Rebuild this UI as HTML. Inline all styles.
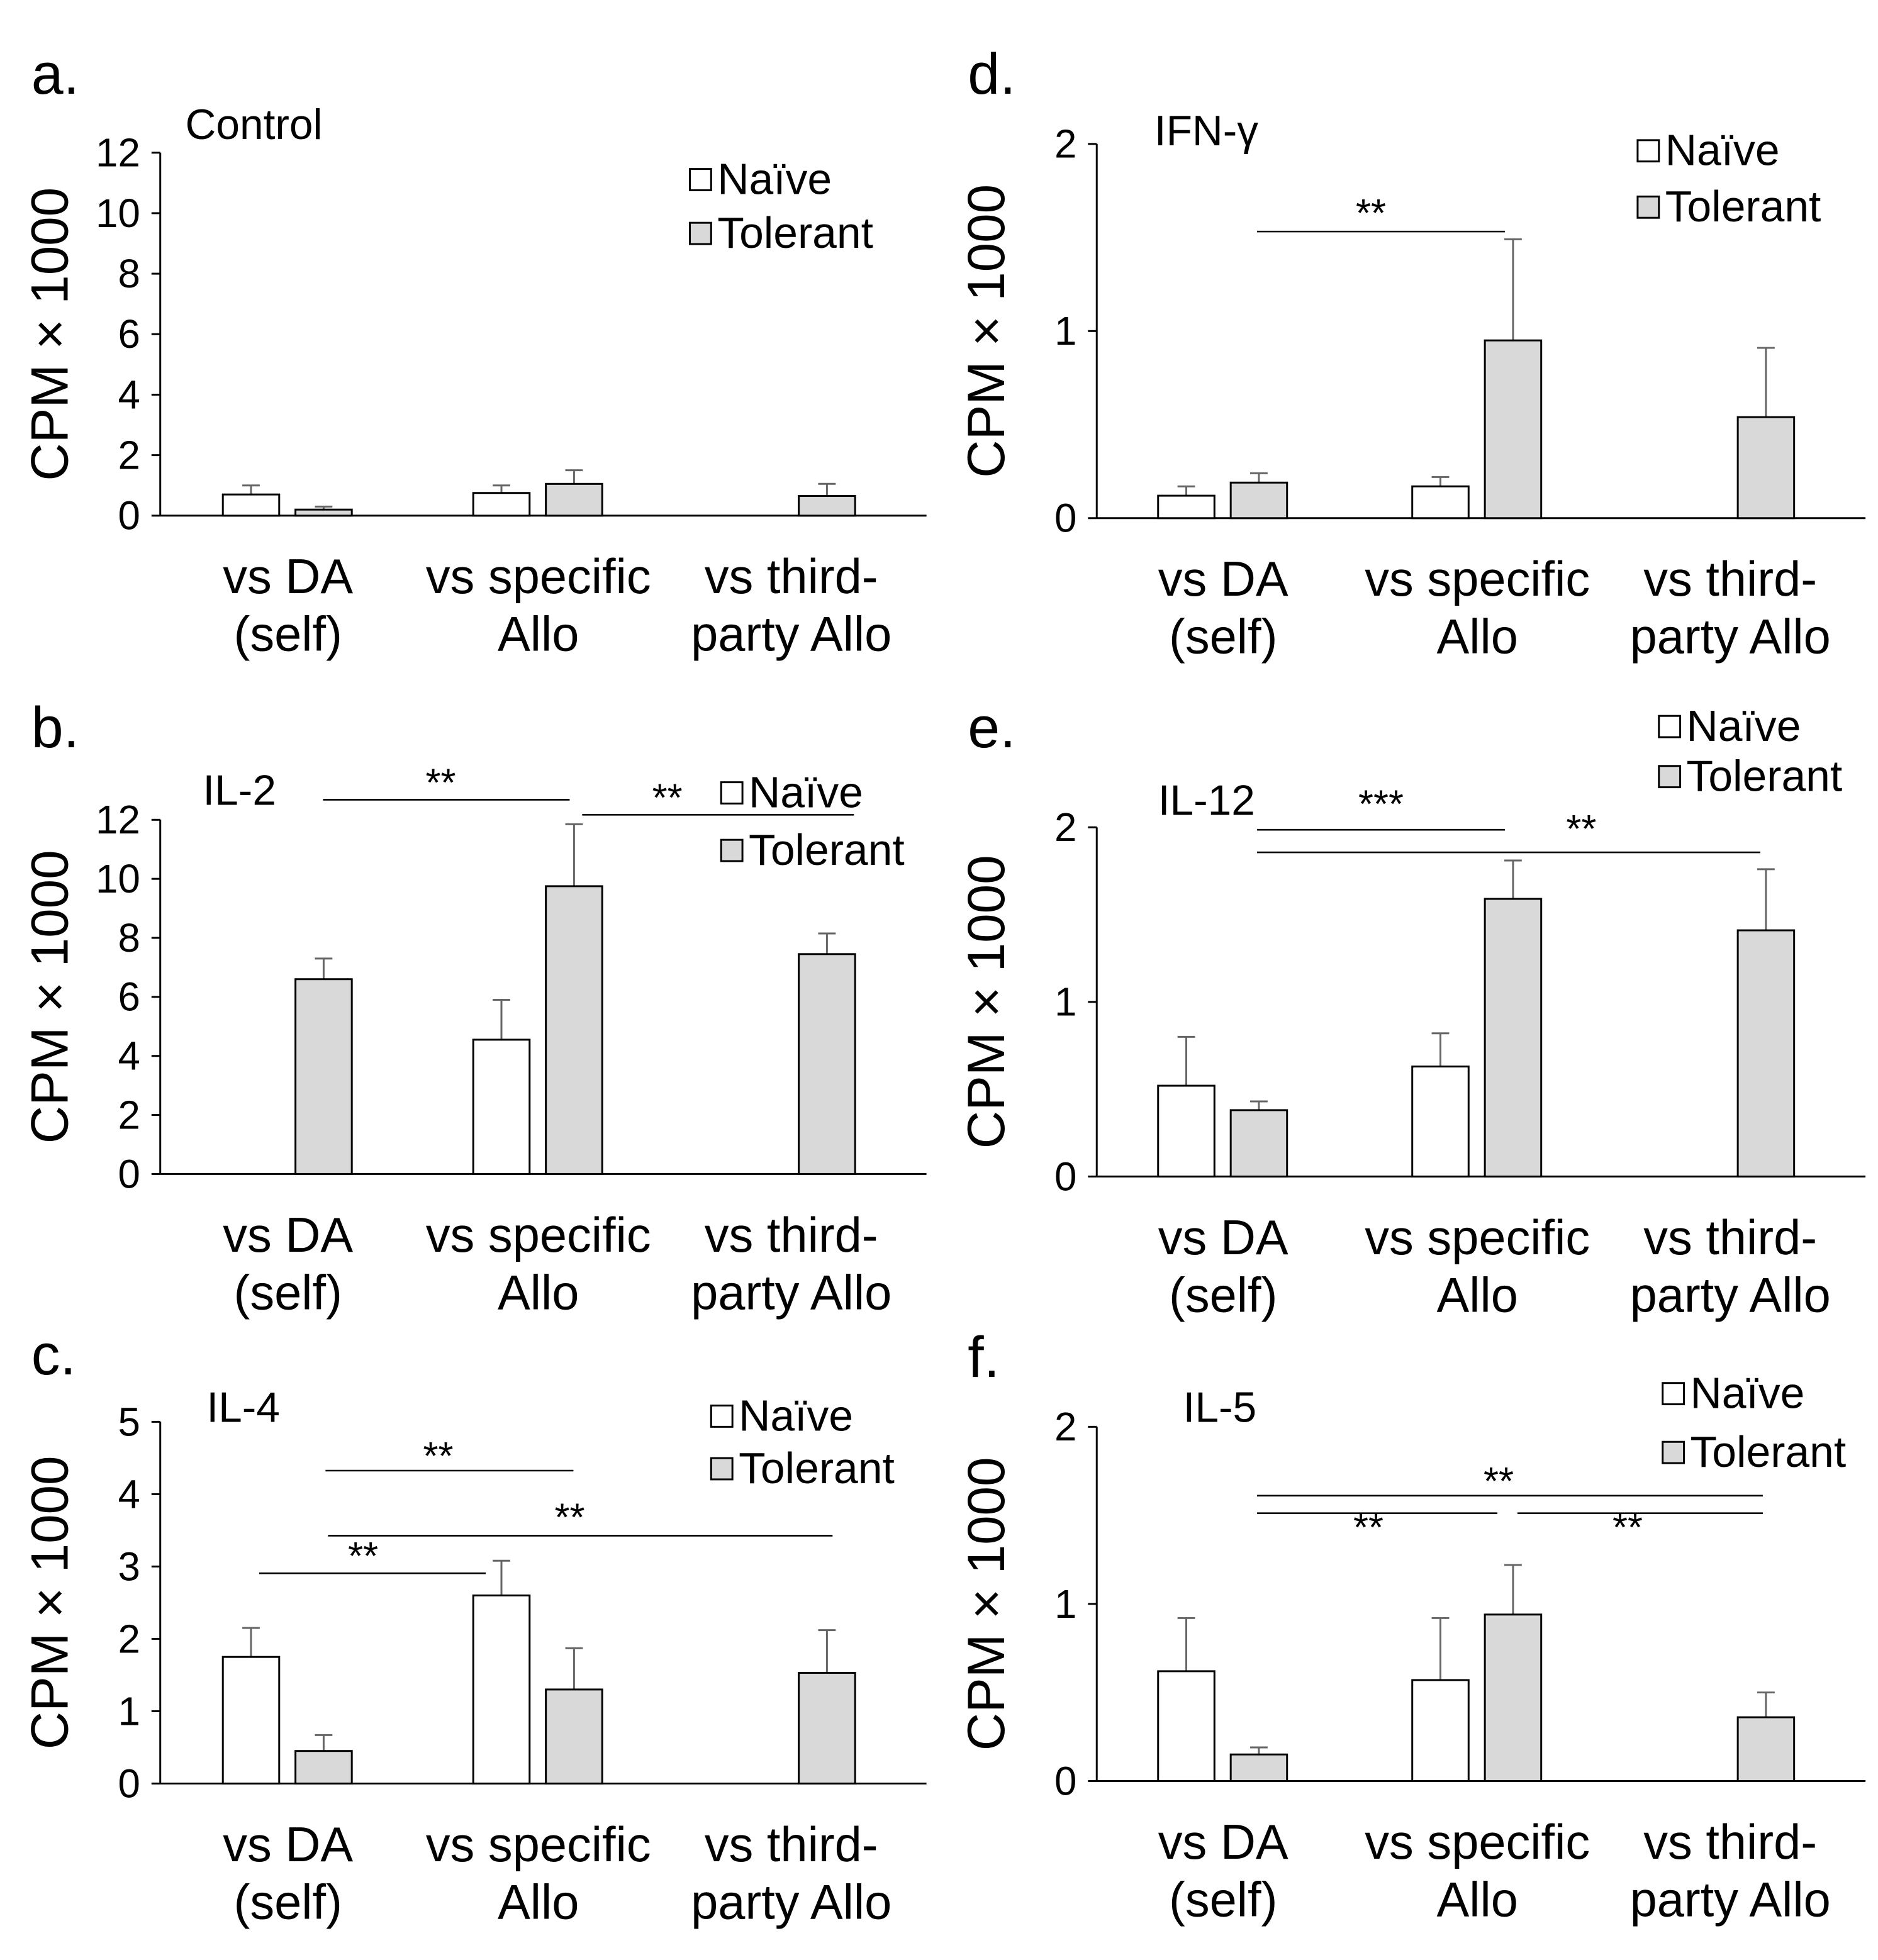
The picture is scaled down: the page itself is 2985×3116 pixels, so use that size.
<!DOCTYPE html>
<html><head><meta charset="utf-8"><style>body{margin:0;background:#fff}svg{display:block}text{font-family:"Liberation Sans",sans-serif;fill:#000}</style></head>
<body>
<svg id="fig" width="2985" height="3116" viewBox="0 0 1500 1566" preserveAspectRatio="none" xmlns="http://www.w3.org/2000/svg"></svg>
<script>
const categories = [["vs DA","(self)"],["vs specific","Allo"],["vs third-","party Allo"]];
const naiveA=[0.7,0.75,null], naiveErrA=[1.0,1.0,null], tolA=[0.2,1.05,0.65], tolErrA=[0.3,1.5,1.05];
const naiveB=[null,4.55,null], naiveErrB=[null,5.9,null], tolB=[6.6,9.75,7.45], tolErrB=[7.3,11.85,8.15];
const naiveC=[1.75,2.6,null], naiveErrC=[2.15,3.08,null], tolC=[0.45,1.3,1.53], tolErrC=[0.67,1.87,2.12];
const naiveD=[0.12,0.17,null], naiveErrD=[0.17,0.22,null], tolD=[0.19,0.95,0.54], tolErrD=[0.24,1.49,0.91];
const naiveE=[0.52,0.63,null], naiveErrE=[0.8,0.82,null], tolE=[0.38,1.59,1.41], tolErrE=[0.43,1.81,1.76];
const naiveF=[0.62,0.57,null], naiveErrF=[0.92,0.92,null], tolF=[0.15,0.94,0.36], tolErrF=[0.19,1.22,0.5];
const ticksAB=[0,2,4,6,8,10,12], ticksC=[0,1,2,3,4,5], ticksDEF=[0,1,2];

const svg=document.getElementById('fig');
const NS='http://www.w3.org/2000/svg';
function el(tag,attrs,parent){const e=document.createElementNS(NS,tag);for(const k in attrs)e.setAttribute(k,attrs[k]);(parent||svg).appendChild(e);return e;}
function txt(x,y,s,size,anchor,parent){const t=el('text',{x:x,y:y,'font-size':size,'text-anchor':anchor||'start'},parent);t.textContent=s;return t;}

function panel(p){
  const g=el('g',{});
  
  
  const yScale=v=>p.y0-(v/p.max)*(p.y0-p.yTop);
  const t0=txt(p.ax-103,p.letterY,p.id+'.',46,'start',g);
  
  const tt=txt(p.titleX,p.titleY,p.title,34,'start',g);
  
  el('line',{x1:p.ax,y1:p.yTop,x2:p.ax,y2:p.y0,stroke:'#000','stroke-width':1.5},g);
  el('line',{x1:p.ax,y1:p.y0,x2:p.xEnd,y2:p.y0,stroke:'#000','stroke-width':1.5},g);
  p.ticks.forEach(v=>{const y=yScale(v);
    el('line',{x1:p.ax-7,y1:y,x2:p.ax,y2:y,stroke:'#000','stroke-width':1.5},g);
    const t=txt(p.ax-16,y+11,String(v),32,'end',g);
    });
  const yl=txt(0,0,'CPM × 1000',42,'middle',g);
  yl.setAttribute('transform','translate('+(p.ax-74)+','+((p.yTop+p.y0)/2)+') rotate(-90)');
  
  categories.forEach((c,i)=>{const cx=p.cx[i];
    const l1=txt(cx,p.labY,c[0],39,'middle',g);
    
    const l2=txt(cx,p.labY+46,c[1],39,'middle',g);
    
    [[p.naive,p.naiveErr,-52,'#fff','bar-naive'],[p.tol,p.tolErr,6,'#d9d9d9','bar-tolerant']].forEach(s=>{
      const v=s[0][i]; if(v==null)return;
      const x=cx+s[2], w=45, y=yScale(v), ye=yScale(s[1][i]);
      el('line',{x1:x+w/2,y1:ye,x2:x+w/2,y2:y,stroke:'#666','stroke-width':1.5},g);
      el('line',{x1:x+w/2-7,y1:ye,x2:x+w/2+7,y2:ye,stroke:'#666','stroke-width':1.5},g);
      const r=el('rect',{x:x,y:y,width:w,height:p.y0-y,fill:s[3],stroke:'#000','stroke-width':1.5},g);
      
    });
  });
  p.sig.forEach(s=>{
    el('line',{x1:s[0],y1:s[2],x2:s[1],y2:s[2],stroke:'#000','stroke-width':1.3},g);
    const t=txt(s[3],s[4],s[5],31,'middle',g);
    
  });
  [['Naïve','#fff',p.legY[0]],['Tolerant','#d9d9d9',p.legY[1]]].forEach(L=>{
    const lg=el('g',{},g);
    
    el('rect',{x:p.legX,y:L[2]-20,width:17,height:17,fill:L[1],stroke:'#000','stroke-width':1.5},lg);
    txt(p.legX+22,L[2],L[0],35,'start',lg);
  });
}
const cxL=[230,430,632], cxR=[977,1180,1382];
panel({id:'a',title:'Control',titleX:148,titleY:111,letterY:75,ax:128,yTop:122,y0:412,max:12,ticks:ticksAB,xEnd:740,cx:cxL,labY:474,naive:naiveA,naiveErr:naiveErrA,tol:tolA,tolErr:tolErrA,sig:[],legX:551,legY:[155,198]});
panel({id:'b',title:'IL-2',titleX:162,titleY:643,letterY:597,ax:128,yTop:655,y0:938,max:12,ticks:ticksAB,xEnd:740,cx:cxL,labY:1000,naive:naiveB,naiveErr:naiveErrB,tol:tolB,tolErr:tolErrB,sig:[[258,455,639,352,636,'**'],[465,682,651,533,648,'**']],legX:576,legY:[645,691]});
panel({id:'c',title:'IL-4',titleX:165,titleY:1136,letterY:1098,ax:128,yTop:1136,y0:1425,max:5,ticks:ticksC,xEnd:740,cx:cxL,labY:1487,naive:naiveC,naiveErr:naiveErrC,tol:tolC,tolErr:tolErrC,sig:[[260,458,1175,350,1174,'**'],[262,665,1227,455,1223,'**'],[207,388,1257,290,1254,'**']],legX:568,legY:[1143,1185]});
panel({id:'d',title:'IFN-γ',titleX:922,titleY:116,letterY:75,ax:876,yTop:115,y0:414,max:2,ticks:ticksDEF,xEnd:1490,cx:cxR,labY:476,naive:naiveD,naiveErr:naiveErrD,tol:tolD,tolErr:tolErrD,sig:[[1004,1202,185,1095,181,'**']],legX:1308,legY:[132,177]});
panel({id:'e',title:'IL-12',titleX:925,titleY:651,letterY:597,ax:876,yTop:661,y0:940,max:2,ticks:ticksDEF,xEnd:1490,cx:cxR,labY:1002,naive:naiveE,naiveErr:naiveErrE,tol:tolE,tolErr:tolErrE,sig:[[1004,1202,663,1103,653,'***'],[1004,1406,681,1263,673,'**']],legX:1325,legY:[592,632]});
panel({id:'f',title:'IL-5',titleX:945,titleY:1136,letterY:1100,ax:876,yTop:1140,y0:1423,max:2,ticks:ticksDEF,xEnd:1490,cx:cxR,labY:1485,naive:naiveF,naiveErr:naiveErrF,tol:tolF,tolErr:tolErrF,sig:[[1004,1408,1195,1197,1194,'**'],[1004,1196,1209,1093,1231,'**'],[1212,1408,1209,1300,1231,'**']],legX:1328,legY:[1125,1172]});
</script>
</body></html>
